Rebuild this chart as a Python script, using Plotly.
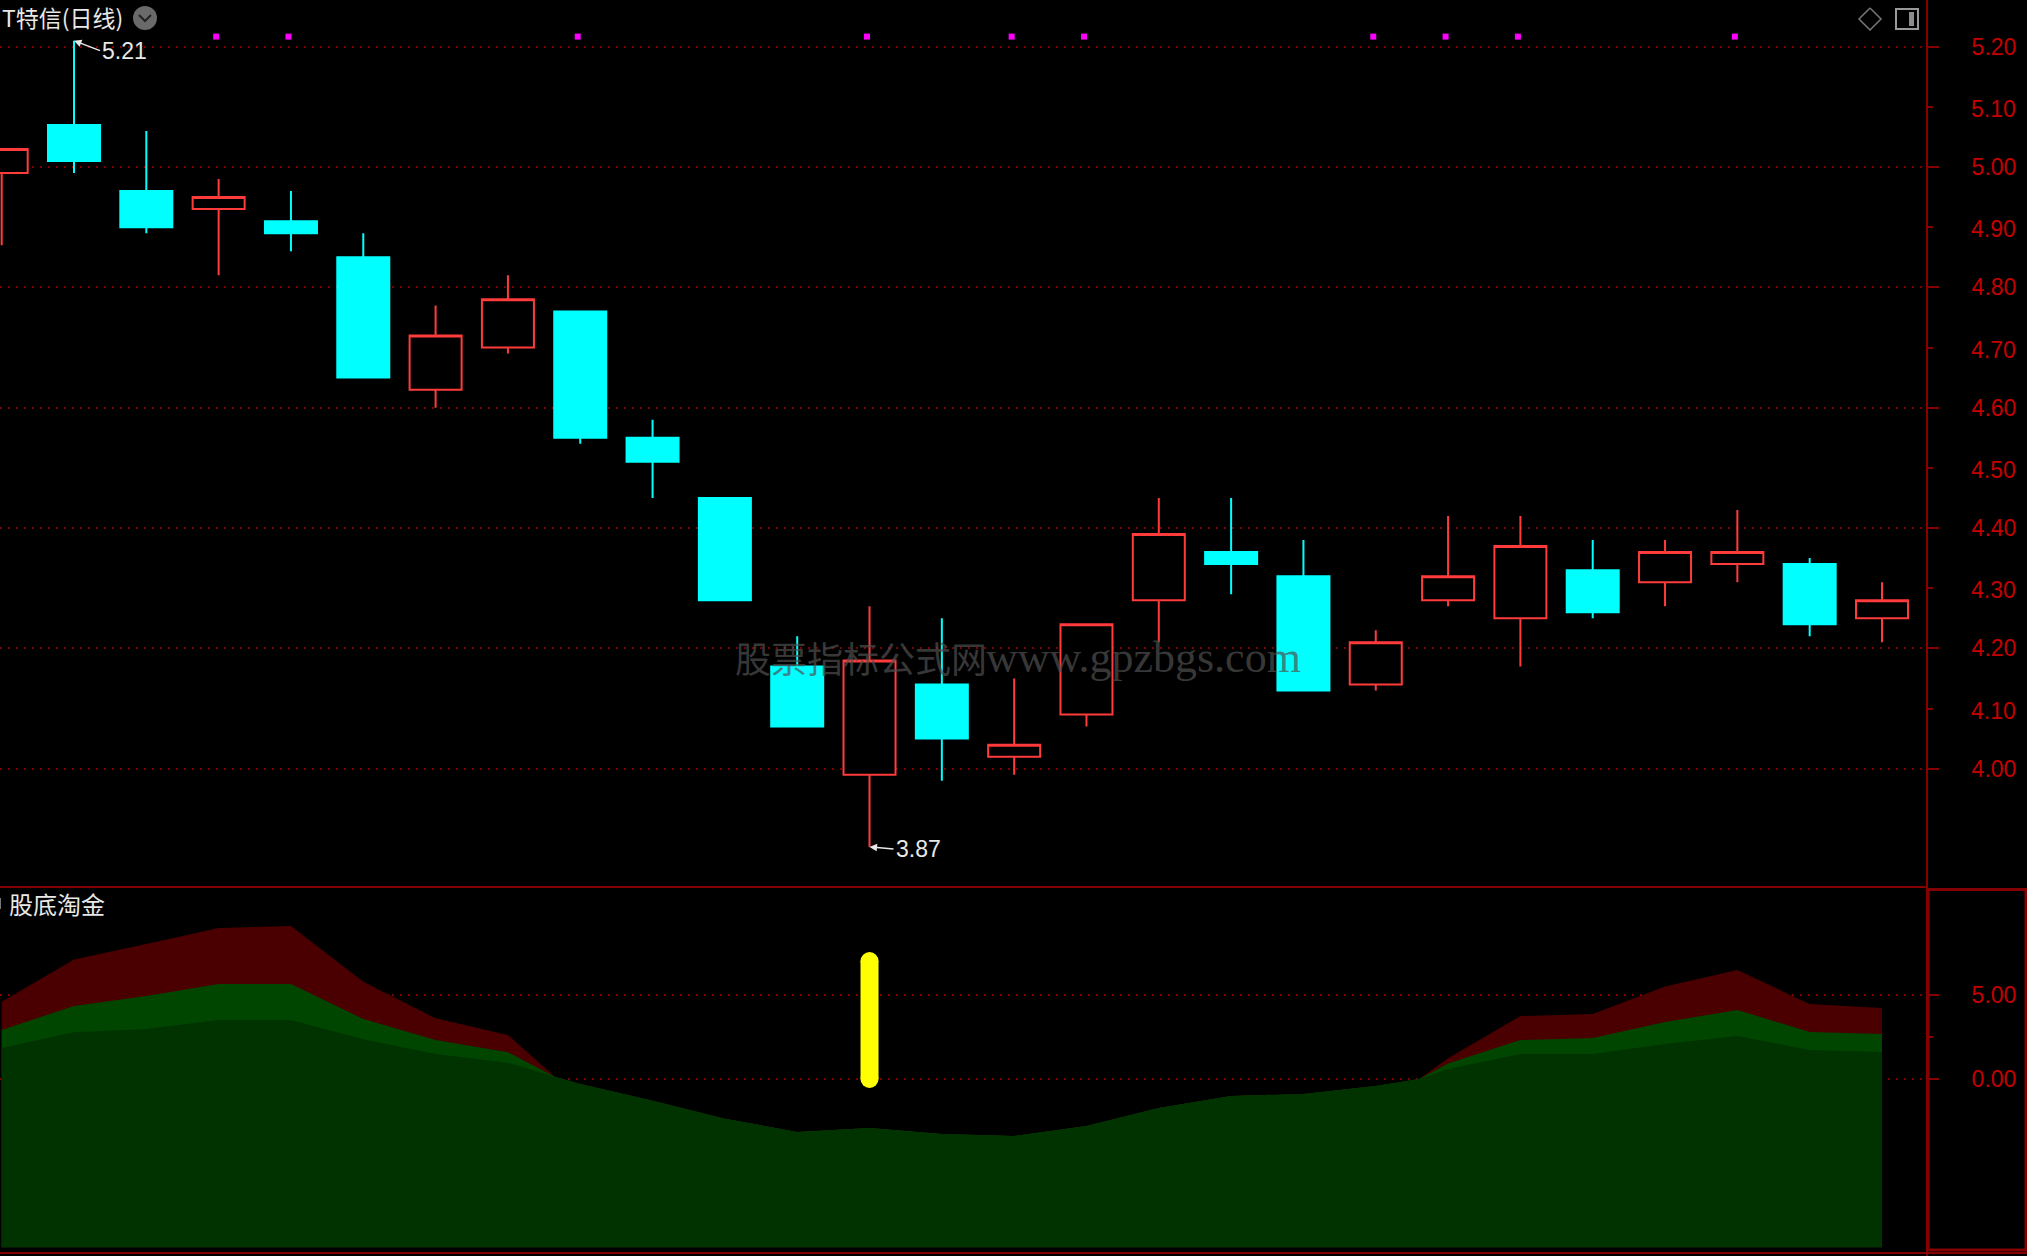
import plotly.graph_objects as go

W, H = 2027, 1256
AX_X, SPLIT = 1926, 887

# ---------- data ----------
idx = list(range(27))
opens  = [4.99,5.07,4.96,4.93,4.91,4.85,4.63,4.70,4.76,4.55,4.45,4.17,3.99,4.14,4.02,4.09,4.28,4.36,4.32,4.14,4.28,4.25,4.33,4.31,4.34,4.34,4.25]
highs  = [5.03,5.21,5.06,4.98,4.96,4.89,4.77,4.82,4.76,4.58,4.45,4.22,4.27,4.25,4.15,4.24,4.45,4.45,4.38,4.23,4.42,4.42,4.38,4.38,4.43,4.35,4.31]
lows   = [4.87,4.99,4.89,4.82,4.86,4.65,4.60,4.69,4.54,4.45,4.28,4.07,3.87,3.98,3.99,4.07,4.21,4.29,4.13,4.13,4.27,4.17,4.25,4.27,4.31,4.22,4.21]
closes = [5.03,5.01,4.90,4.95,4.89,4.65,4.72,4.78,4.55,4.51,4.28,4.07,4.18,4.05,4.04,4.24,4.39,4.34,4.13,4.21,4.32,4.37,4.26,4.36,4.36,4.24,4.28]

signal_idx = [3,4,8,12,14,15,19,20,21,24]
signal_level = [5.22]*len(signal_idx)

ind_x = [0,1,2,3,4,5,6,7,7.65,8,9,10,11,12,13,14,15,16,17,18,19,19.6,20,21,22,23,24,25,26]
ind_red   = [4.60,7.12,8.04,8.99,9.11,5.79,3.61,2.62,0.14,-0.30,-1.29,-2.36,-3.15,-2.92,-3.27,-3.39,-2.80,-1.73,-1.01,-0.89,-0.42,0.0,1.23,3.75,3.87,5.50,6.49,4.46,4.23]
ind_green = [2.92,4.35,4.94,5.65,5.65,3.57,2.32,1.59,0.14,-0.30,-1.29,-2.36,-3.15,-2.92,-3.27,-3.39,-2.80,-1.73,-1.01,-0.89,-0.42,0.0,0.93,2.32,2.44,3.39,4.11,2.80,2.68]
ind_dark  = [1.85,2.78,2.98,3.51,3.51,2.36,1.49,0.97,0.14,-0.30,-1.29,-2.36,-3.15,-2.92,-3.27,-3.39,-2.80,-1.73,-1.01,-0.89,-0.42,0.0,0.60,1.49,1.49,2.08,2.56,1.73,1.61]
ind_base = -10.02
yellow_x = [12,12]
yellow_y = [0.0,7.02]

price_major = [5.2,5.0,4.8,4.6,4.4,4.2,4.0]
price_minor = [5.1,4.9,4.7,4.5,4.3,4.1]
ind_ticks = [5,0]
title_text = "T特信(日线)"
ind_title = "股底淘金"
wm_cn, wm_en = "股票指标公式网", "www.gpzbgs.com"

# ---------- styling ----------
RED_LINE = "#850000"
TICK_RED = "#c40000"
CANDLE_RED = "#ff3b3b"
CYAN = "#00ffff"
TXT = "#e8e8e8"
FONT = "Liberation Sans"
CJK = "Noto Sans CJK SC"
WM = "rgba(80,80,80,0.7)"

fig = go.Figure()

fig.add_trace(go.Candlestick(
    x=idx, open=opens, high=highs, low=lows, close=closes,
    xaxis="x", yaxis="y", whiskerwidth=0, hoverinfo="skip",
    increasing=dict(line=dict(color=CANDLE_RED, width=2), fillcolor="#000000"),
    decreasing=dict(line=dict(color=CYAN, width=2), fillcolor=CYAN),
))
fig.add_trace(go.Scatter(
    x=signal_idx, y=signal_level, mode="markers", xaxis="x3", yaxis="y3", hoverinfo="skip",
    marker=dict(symbol="square", size=6, color="#ff00ff", line=dict(width=0)),
))

for vals, col in ((ind_red,"#4a0000"),(ind_green,"#004600"),(ind_dark,"#003300")):
    fig.add_trace(go.Scatter(x=ind_x, y=[ind_base]*len(ind_x), mode="lines", xaxis="x2", yaxis="y2",
                             line=dict(width=0), hoverinfo="skip"))
    fig.add_trace(go.Scatter(x=ind_x, y=vals, mode="lines", xaxis="x2", yaxis="y2", fill="tonexty",
                             fillcolor=col, line=dict(width=0), hoverinfo="skip"))
fig.add_trace(go.Scatter(x=yellow_x, y=yellow_y, mode="lines+markers", xaxis="x2", yaxis="y2",
                         line=dict(color="#ffff00", width=18),
                         marker=dict(color="#ffff00", size=18, line=dict(width=0)), hoverinfo="skip"))

PXU = 72.32
PU = 601.7
xr = [-1.68/PXU, (AX_X-1.68)/PXU]
xr3 = [xr[0]+2.5/PXU, xr[1]+2.5/PXU]   # label/marker layer sits a little to the left
tickfont = dict(family=FONT, size=23, color=TICK_RED)
yr = [5-(SPLIT-167)/PU, 5+167/PU]
yr3 = [yr[0]+2/PU, yr[1]+2/PU]         # odd labels sit slightly under their ticks
yr2 = [(1079-H)/16.8, (1079-SPLIT)/16.8]
dom_x = [0, AX_X/W]
dom_top = [1-SPLIT/H, 1]
dom_bot = [0, 1-SPLIT/H]

def xax(anchor, rng=xr, **kw):
    return dict(domain=dom_x, range=rng, anchor=anchor, visible=False, showgrid=False, zeroline=False,
                rangeslider=dict(visible=False), fixedrange=True, **kw)

fig.update_layout(
    width=W, height=H, margin=dict(l=0,r=0,t=0,b=0),
    paper_bgcolor="#000000", plot_bgcolor="#000000", showlegend=False,
    boxgap=0.281, boxgroupgap=0, hovermode=False,
    xaxis=xax("y"), xaxis2=xax("y2"), xaxis3=xax("y3", xr3, overlaying="x"),
    yaxis=dict(domain=dom_top, range=yr, anchor="x", side="right", tickmode="array",
               tickvals=price_major, ticktext=[f"{v:.2f}" for v in price_major], tickfont=tickfont,
               ticks="outside", ticklen=11, tickwidth=2, tickcolor=RED_LINE, ticklabelstandoff=28,
               minor=dict(tickmode="array", tickvals=price_minor, ticks="outside", ticklen=5, tickwidth=2,
                          tickcolor=RED_LINE, showgrid=False),
               showline=True, linecolor=RED_LINE, linewidth=2,
               showgrid=True, gridcolor="#800000", gridwidth=2, griddash="2px,6px", zeroline=False, fixedrange=True),
    yaxis3=dict(domain=dom_top, range=yr3, anchor="x", side="right", overlaying="y", tickmode="array",
                tickvals=price_minor, ticktext=[f"{v:.2f}" for v in price_minor], tickfont=tickfont,
                ticks="", ticklabelstandoff=44,
                showline=False, showgrid=False, zeroline=False, fixedrange=True),
    yaxis2=dict(domain=dom_bot, range=yr2, anchor="x2", side="right", tickmode="array",
                tickvals=ind_ticks, ticktext=[f"{v:.2f}" for v in ind_ticks], tickfont=tickfont,
                ticks="outside", ticklen=11, tickwidth=2, tickcolor=RED_LINE, ticklabelstandoff=28,
                minor=dict(tickmode="array", tickvals=[2.5], ticks="outside", ticklen=5, tickwidth=2,
                           tickcolor=RED_LINE, showgrid=False),
                showline=True, linecolor=RED_LINE, linewidth=2,
                showgrid=True, gridcolor="#800000", gridwidth=2, griddash="2px,6px", zeroline=False, fixedrange=True),
)

def px(x): return x/W
def py(y): return 1-y/H

def pshape(kind, x0, y0, x1, y1, **kw):
    return dict(type=kind, xref="paper", yref="paper", x0=px(x0), y0=py(y0), x1=px(x1), y1=py(y1), **kw)

def ppath(points, **kw):
    d = "M " + " L ".join(f"{px(a):.5f},{py(b):.5f}" for a,b in points)
    return dict(type="path", xref="paper", yref="paper", path=d, **kw)

shapes = [
    pshape("line", 0, SPLIT, AX_X, SPLIT, line=dict(color=RED_LINE, width=2)),
    pshape("line", 0, 1253, W, 1253, line=dict(color=RED_LINE, width=2)),
    pshape("rect", 1928, 889.5, 2026, 1250, line=dict(color=RED_LINE, width=3)),
    # panel icons
    pshape("circle", 133, 6, 157, 30, line=dict(width=0), fillcolor="#6a6a6a"),
    ppath([(139,15),(145,21),(151,15)], line=dict(color="#222222", width=2)),
    ppath([(1870,8),(1881,19),(1870,30),(1859,19),(1870,8)], line=dict(color="#777777", width=1.5)),
    pshape("rect", 1896, 9, 1918, 29, line=dict(color="#999999", width=2)),
    pshape("rect", 1909, 12, 1914, 26, line=dict(width=0), fillcolor="#8c8c8c"),
    pshape("rect", 0, 898, 1, 909, line=dict(width=0), fillcolor="#777777"),
]
fig.update_layout(shapes=shapes)

def ann(text, x, y, size, color=TXT, family=CJK, xanchor="left", **kw):
    return dict(text=text, x=px(x), y=py(y), xref="paper", yref="paper", showarrow=False,
                xanchor=xanchor, yanchor="middle", font=dict(family=family, size=size, color=color), **kw)

def extreme(text, x, y, ax, ay):
    return dict(text=text, x=x, y=y, xref="x", yref="y", showarrow=True, ax=ax, ay=ay, axref="pixel", ayref="pixel",
                arrowhead=2, arrowsize=1, arrowwidth=1.5, arrowcolor=TXT, standoff=0,
                xanchor="left", yanchor="middle", font=dict(family=FONT, size=23, color=TXT))

annotations = [
    ann(title_text, 0, 17, 23),
    ann(ind_title, 7, 903, 24),
    ann(wm_cn, 733, 657, 36, color=WM),
    ann(wm_en, 984, 657, 44, color=WM, family="Liberation Serif"),
    extreme(f"{highs[1]:.2f}", 1, highs[1], 26, 10),
    extreme(f"{lows[12]:.2f}", 12, lows[12], 24, 2),
]
fig.update_layout(annotations=annotations)

fig.write_html("out.html", config=dict(displayModeBar=False),
               post_script="document.body.style.margin='0';document.body.style.background='#000';")
